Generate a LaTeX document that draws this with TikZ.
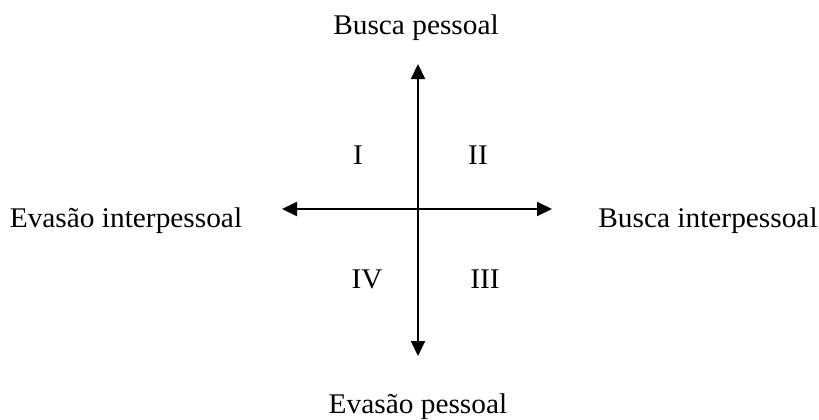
\documentclass[tikz,border=0pt]{standalone}
\usepackage{fontspec}
\setmainfont{Liberation Serif}[FakeStretch=1.03]
\usetikzlibrary{arrows.meta}
\begin{document}
\begin{tikzpicture}[x=1pt,y=-1pt,
  axis/.style={line width=2pt,{Triangle[length=15pt,width=14pt]}-{Triangle[length=15pt,width=14pt]}},
  lbl/.style={anchor=base,inner sep=0pt,font=\fontsize{28.5}{34}\selectfont}]
\useasboundingbox (0,0) rectangle (819,420);
% axis end points
\coordinate (top) at (418,64);
\coordinate (bottom) at (418,356);
\coordinate (left) at (282,209);
\coordinate (right) at (552,209);
\draw[axis] (bottom) -- (top);
\draw[axis] (left) -- (right);
% axis labels
\node[lbl] (bp) at (416,35) {Busca pessoal};
\node[lbl] (ep) at (418,413) {Evasão pessoal};
\node[lbl] (ei) at (126,227) {Evasão interpessoal};
\node[lbl] (bi) at (708,227) {Busca interpessoal};
% quadrants
\node[lbl] (q1) at (358,164) {I};
\node[lbl] (q2) at (478,164) {II};
\node[lbl] (q3) at (485,288) {III};
\node[lbl] (q4) at (367,288) {IV};
\end{tikzpicture}
\end{document}
